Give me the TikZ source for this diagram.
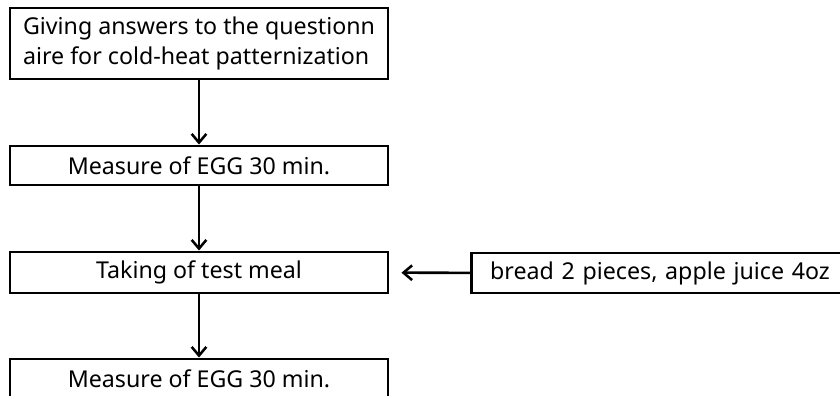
\documentclass[tikz,border=0pt]{standalone}
\usepackage{fontspec}
\setmainfont{Noto Sans}
\usetikzlibrary{arrows.meta}

\tikzset{
  stepbox/.style={draw, line width=2.2pt, minimum width=283.5pt, inner sep=0pt, font=\fontsize{17.4}{22}\selectfont},
  flow/.style={line width=1.9pt, -{Straight Barb[length=6.5pt,width=11pt,line width=1.9pt]}}
}

\begin{document}
\begin{tikzpicture}[x=0.75pt,y=0.75pt,yscale=-1,xscale=1]

\useasboundingbox (0,0) rectangle (840,396);
\clip (0,0) rectangle (840,396);

\node[stepbox, minimum height=53.25pt, align=left] (answer) at (199,43.5) {Giving answers to the questionn\\aire for cold-heat patternization};

\node[stepbox, minimum height=29.25pt] (egga) at (199,165.5) {Measure of EGG 30 min.};

\node[stepbox, minimum height=30.75pt] (meal) at (199,272.5) {Taking of test meal};

\node[stepbox, minimum height=30pt, anchor=west, inner xsep=14pt, text width=272pt, align=left] (food) at (470,273) {bread 2 pieces, apple juice 4oz};

\node[stepbox, minimum height=30pt] (eggb) at (199,379) {Measure of EGG 30 min.};


\draw[flow] (answer) -- (egga);
\draw[flow] (egga) -- (meal);
\draw[flow, shorten >=9pt] (food) -- (meal);
\draw[flow] (meal) -- (eggb);

\end{tikzpicture}
\end{document}
